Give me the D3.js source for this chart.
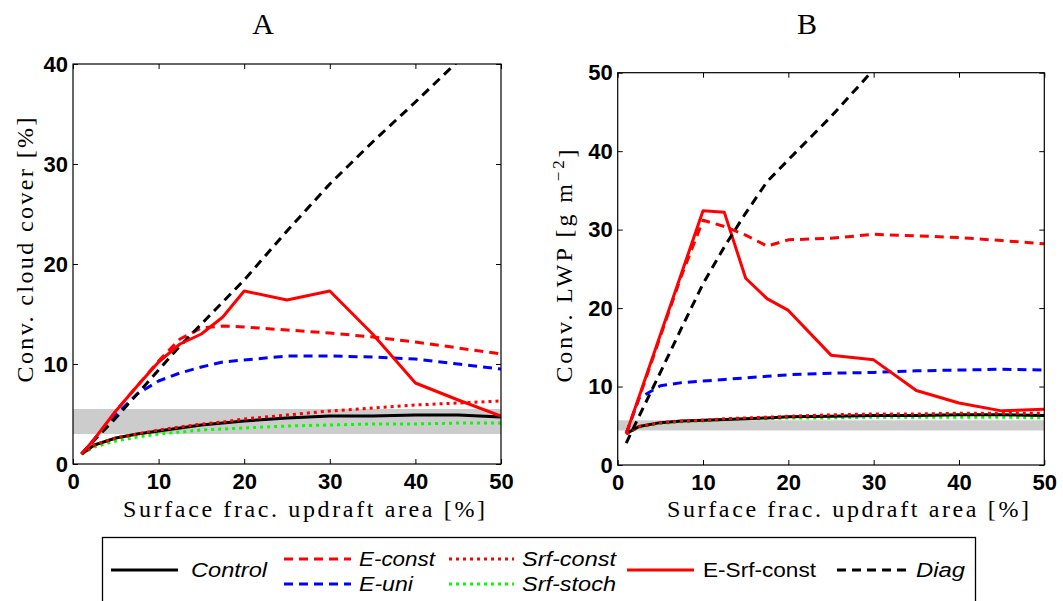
<!DOCTYPE html>
<html>
<head>
<meta charset="utf-8">
<script src="https://cdn.jsdelivr.net/npm/d3@7"></script>
<style>
  html, body { margin: 0; padding: 0; background: #fff; }
  svg { display: block; }
  .tick text { font-family: "Liberation Sans", Arial, sans-serif; font-weight: bold; font-size: 22px; fill: #000; }
  .tick line { stroke: #000; stroke-width: 1; }
</style>
</head>
<body>
<svg id="chart" width="1063" height="601"></svg>
<script>
// Updraft area fractions (%) at which the runs were made
const updraftArea = [1, 2.5, 5, 7.5, 10, 12.5, 15, 17.5, 20, 25, 30, 35, 40, 45, 50];

// Panel A: convective cloud cover [%]
const coverControl  = [1.0, 1.9, 2.6, 3.0, 3.3, 3.6, 3.9, 4.1, 4.3, 4.6, 4.8, 4.8, 4.9, 4.9, 4.7];
const coverEConst   = [1.0, 2.4, 5.3, 7.8, 10.3, 12.5, 13.6, 13.8, 13.7, 13.4, 13.1, 12.7, 12.2, 11.6, 11.0];
const coverEUni     = [1.0, 2.5, 4.9, 7.0, 8.3, 9.1, 9.7, 10.2, 10.4, 10.8, 10.8, 10.7, 10.5, 10.0, 9.5];
const coverSrfConst = [1.0, 1.9, 2.6, 3.0, 3.4, 3.7, 4.0, 4.2, 4.5, 4.9, 5.3, 5.6, 5.9, 6.1, 6.3];
const coverSrfStoch = [1.0, 1.7, 2.3, 2.7, 3.0, 3.2, 3.4, 3.5, 3.6, 3.8, 3.9, 4.0, 4.0, 4.1, 4.1];
const coverESrf     = [1.0, 2.5, 5.3, 7.8, 10.2, 12.0, 13.0, 14.7, 17.3, 16.4, 17.3, 13.0, 8.1, 6.4, 4.8];
const coverDiag     = [1.0, 2.4, 4.6, 7.0, 9.4, 11.8, 14.0, 16.2, 18.4, 23.3, 28.0, 32.2, 36.2, 40.3, 44.3];
const coverObsBand  = [3.0, 5.5];

// Panel B: convective liquid water path [g m-2]
const lwpControl  = [4.0, 4.9, 5.4, 5.6, 5.7, 5.8, 5.9, 6.0, 6.15, 6.2, 6.3, 6.3, 6.4, 6.4, 6.3];
const lwpEConst   = [4.0, 8.5, 16.4, 24.2, 31.2, 30.4, 29.3, 27.9, 28.7, 28.9, 29.4, 29.2, 29.0, 28.6, 28.2];
const lwpEUni     = [4.0, 8.5, 10.1, 10.5, 10.7, 10.9, 11.1, 11.3, 11.5, 11.7, 11.8, 12.0, 12.1, 12.2, 12.1];
const lwpSrfConst = [4.0, 4.9, 5.4, 5.6, 5.7, 5.9, 6.0, 6.1, 6.2, 6.4, 6.5, 6.5, 6.6, 6.6, 6.6];
const lwpSrfStoch = [4.0, 4.8, 5.3, 5.5, 5.6, 5.8, 5.9, 5.9, 6.0, 6.0, 6.1, 6.1, 6.1, 6.1, 6.0];
const lwpESrf     = [4.0, 8.7, 16.6, 24.5, 32.4, 32.2, 23.8, 21.2, 19.7, 14.0, 13.4, 9.5, 7.9, 6.9, 7.1];
const lwpDiag     = [2.8, 6.2, 11.8, 17.5, 23.1, 27.8, 32.1, 36.1, 38.9, 44.4, 50.4, 55.5, 60.5, 65.5, 70.5];
const lwpObsBand  = [4.4, 5.7];

const xTicks = [0, 10, 20, 30, 40, 50];
const coverTicks = [0, 10, 20, 30, 40];
const lwpTicks = [0, 10, 20, 30, 40, 50];

// Line styles per run
const styles = {
  control:  { color: "#000000", dash: null },
  eConst:   { color: "#ff0000", dash: "9,6" },
  eUni:     { color: "#0000ff", dash: "9,6" },
  srfConst: { color: "#ff0000", dash: "3,4" },
  srfStoch: { color: "#00ff00", dash: "3,4" },
  eSrf:     { color: "#ff0000", dash: null },
  diag:     { color: "#000000", dash: "9,6" }
};

const svg = d3.select("#chart");
const serif = "'Liberation Serif', 'DejaVu Serif', serif";

function drawPanel(cfg) {
  const x = d3.scaleLinear().domain([0, 50]).range([cfg.left, cfg.right]);
  const y = d3.scaleLinear().domain([0, cfg.ymax]).range([cfg.bottom, cfg.top]);
  const g = svg.append("g");

  const clipId = "clip-" + cfg.id;
  svg.append("clipPath").attr("id", clipId)
    .append("rect")
    .attr("x", cfg.left).attr("y", cfg.top)
    .attr("width", cfg.right - cfg.left).attr("height", cfg.bottom - cfg.top);

  const plot = g.append("g").attr("clip-path", `url(#${clipId})`);

  // observed range
  plot.append("rect")
    .attr("x", x(0)).attr("width", x(50) - x(0))
    .attr("y", y(cfg.band[1])).attr("height", y(cfg.band[0]) - y(cfg.band[1]))
    .attr("fill", "#cccccc");

  const line = d3.line().x((d, i) => x(updraftArea[i])).y(d => y(d));
  cfg.series.forEach(s => {
    const st = styles[s.key];
    plot.append("path")
      .datum(s.values)
      .attr("d", line)
      .attr("fill", "none")
      .attr("stroke", st.color)
      .attr("stroke-width", 3)
      .attr("stroke-dasharray", st.dash)
      .attr("stroke-linejoin", "round");
  });

  // axes with inward ticks on all sides
  const bottom = g.append("g").attr("transform", `translate(0,${cfg.bottom})`)
    .call(d3.axisBottom(x).tickValues(xTicks).tickSizeInner(-5).tickSizeOuter(0).tickPadding(6));
  const top = g.append("g").attr("transform", `translate(0,${cfg.top})`)
    .call(d3.axisTop(x).tickValues(xTicks).tickSizeInner(-5).tickSizeOuter(0).tickFormat(""));
  const left = g.append("g").attr("transform", `translate(${cfg.left},0)`)
    .call(d3.axisLeft(y).tickValues(cfg.yTicks).tickSizeInner(-5).tickSizeOuter(0).tickPadding(5));
  const right = g.append("g").attr("transform", `translate(${cfg.right},0)`)
    .call(d3.axisRight(y).tickValues(cfg.yTicks).tickSizeInner(-5).tickSizeOuter(0).tickFormat(""));
  [bottom, top, left, right].forEach(a => a.select(".domain").remove());
  bottom.selectAll(".tick text").attr("dy", "0.85em");

  g.append("rect")
    .attr("x", cfg.left).attr("y", cfg.top)
    .attr("width", cfg.right - cfg.left).attr("height", cfg.bottom - cfg.top)
    .attr("fill", "none").attr("stroke", "#000").attr("stroke-width", 1.2);

  // panel letter
  g.append("text")
    .attr("x", cfg.titleX).attr("y", 34)
    .attr("text-anchor", "middle")
    .style("font-family", serif).style("font-size", "30px")
    .text(cfg.title);

  // x axis title
  g.append("text")
    .attr("x", cfg.xLabelX).attr("y", 517)
    .attr("text-anchor", "middle")
    .attr("textLength", 362).attr("lengthAdjust", "spacing")
    .style("font-family", serif).style("font-size", "24px")
    .text("Surface frac. updraft area [%]");

  // y axis title
  const yl = g.append("text")
    .attr("transform", `translate(${cfg.yLabelX},${cfg.yLabelY}) rotate(-90)`)
    .attr("text-anchor", "middle")
    .attr("textLength", cfg.yLabelLen).attr("lengthAdjust", "spacing")
    .style("font-family", serif).style("font-size", "24px");
  cfg.yLabel(yl);
}

drawPanel({
  id: "a", title: "A", titleX: 263,
  left: 73, right: 501, top: 64, bottom: 464, ymax: 40,
  yTicks: coverTicks, band: coverObsBand,
  xLabelX: 304, yLabelX: 33, yLabelY: 250, yLabelLen: 265,
  yLabel: t => t.text("Conv. cloud cover [%]"),
  series: [
    { key: "eUni", values: coverEUni },
    { key: "eConst", values: coverEConst },
    { key: "srfStoch", values: coverSrfStoch },
    { key: "control", values: coverControl },
    { key: "srfConst", values: coverSrfConst },
    { key: "diag", values: coverDiag },
    { key: "eSrf", values: coverESrf }
  ]
});

drawPanel({
  id: "b", title: "B", titleX: 807,
  left: 617.7, right: 1044.3, top: 72.7, bottom: 465, ymax: 50,
  yTicks: lwpTicks, band: lwpObsBand,
  xLabelX: 848, yLabelX: 572, yLabelY: 266, yLabelLen: 233,
  yLabel: t => {
    t.append("tspan").text("Conv. LWP [g m");
    t.append("tspan").attr("dy", "-0.45em").style("font-size", "17px").text("\u22122");
    t.append("tspan").attr("dy", "0.45em").text("]");
  },
  series: [
    { key: "eUni", values: lwpEUni },
    { key: "eConst", values: lwpEConst },
    { key: "srfStoch", values: lwpSrfStoch },
    { key: "control", values: lwpControl },
    { key: "srfConst", values: lwpSrfConst },
    { key: "eSrf", values: lwpESrf },
    { key: "diag", values: lwpDiag }
  ]
});

// Legend
const legendItems = [
  { key: "control",  label: "Control",     x1: 111, x2: 178, y: 570, tx: 191, w: 76,  italic: true },
  { key: "eConst",   label: "E-const",     x1: 284, x2: 351, y: 559, tx: 359, w: 76,  italic: true },
  { key: "eUni",     label: "E-uni",       x1: 284, x2: 351, y: 584, tx: 359, w: 54,  italic: true },
  { key: "srfConst", label: "Srf-const",   x1: 449, x2: 514, y: 559, tx: 522, w: 94,  italic: true },
  { key: "srfStoch", label: "Srf-stoch",   x1: 449, x2: 514, y: 584, tx: 522, w: 94,  italic: true },
  { key: "eSrf",     label: "E-Srf-const", x1: 627, x2: 694, y: 570, tx: 703, w: 113, italic: false },
  { key: "diag",     label: "Diag",        x1: 837, x2: 907, y: 570, tx: 916, w: 49,  italic: true }
];

const legend = svg.append("g");
legend.append("rect")
  .attr("x", 102.5).attr("y", 537.5).attr("width", 873).attr("height", 80)
  .attr("fill", "#fff").attr("stroke", "#000").attr("stroke-width", 1.3);

legend.selectAll("line.item").data(legendItems).join("line")
  .attr("class", "item")
  .attr("x1", d => d.x1).attr("x2", d => d.x2)
  .attr("y1", d => d.y).attr("y2", d => d.y)
  .attr("stroke", d => styles[d.key].color)
  .attr("stroke-width", 3)
  .attr("stroke-dasharray", d => styles[d.key].dash);

legend.selectAll("text.item").data(legendItems).join("text")
  .attr("class", "item")
  .attr("x", d => d.tx).attr("y", d => d.y + 7)
  .attr("textLength", d => d.w).attr("lengthAdjust", "spacingAndGlyphs")
  .style("font-family", "'Liberation Sans', Arial, sans-serif")
  .style("font-size", "20px")
  .style("font-style", d => d.italic ? "italic" : "normal")
  .text(d => d.label);
</script>
</body>
</html>
